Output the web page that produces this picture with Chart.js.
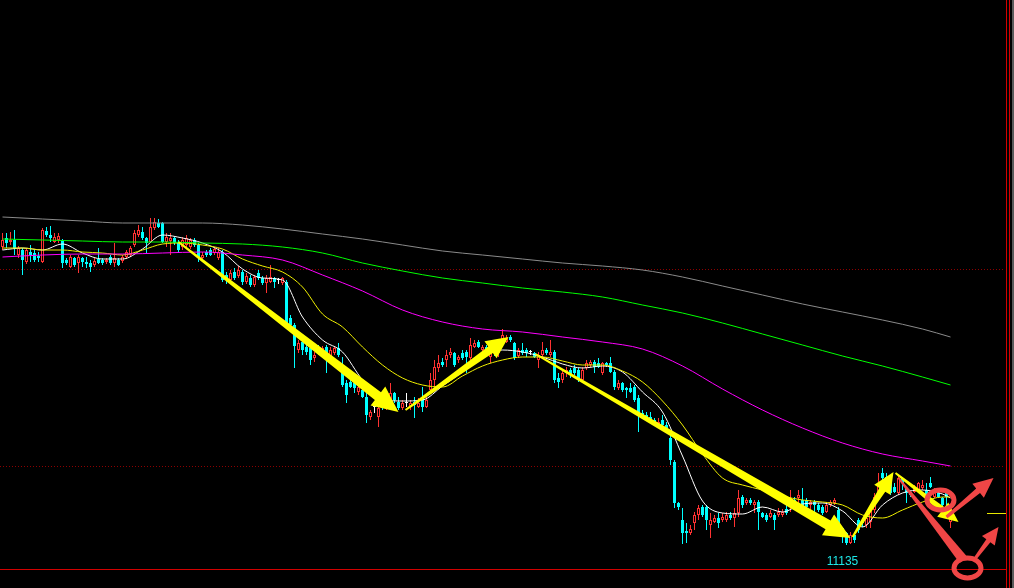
<!DOCTYPE html>
<html>
<head>
<meta charset="utf-8">
<script src="https://cdn.jsdelivr.net/npm/chart.js@4"></script>
<style>
html, body { margin: 0; padding: 0; background: #000; overflow: hidden; }
canvas { display: block; }
</style>
</head>
<body>
<canvas id="kline" width="1014" height="588"></canvas>
<script>
// one candle per bar, oldest first
var opens = [
  11433,11442,11438,11440,11425,11430,11418,11428,11427,11424,
  11418,11449,11445,11438,11440,11439,11420,11413,11422,11417,
  11422,11418,11417,11415,11421,11420,11418,11423,11417,11420,
  11419,11423,11425,11435,11445,11448,11442,11438,11452,11457,
  11457,11438,11439,11442,11438,11433,11435,11433,11440,11435,
  11422,11428,11430,11427,11422,11428,11405,11400,11408,11404,
  11408,11398,11402,11395,11407,11402,11397,11398,11402,11400,
  11397,11398,11362,11355,11330,11338,11333,11332,11322,11333,
  11327,11333,11322,11327,11332,11315,11297,11298,11297,11288,
  11290,11283,11263,11273,11263,11277,11273,11280,11287,11278,
  11272,11277,11273,11278,11273,11282,11273,11290,11300,11312,
  11318,11320,11325,11327,11320,11327,11328,11322,11333,11338,
  11330,11333,11323,11330,11327,11340,11338,11343,11337,11324,
  11330,11330,11328,11327,11320,11325,11330,11325,11328,11302,
  11300,11307,11310,11312,11310,11300,11312,11315,11318,11317,
  11307,11317,11317,11308,11292,11297,11292,11292,11293,11282,
  11267,11265,11263,11260,11255,11260,11255,11242,11218,11177,
  11160,11149,11147,11157,11165,11173,11173,11155,11158,11162,
  11160,11160,11165,11162,11167,11183,11177,11180,11175,11178,
  11167,11165,11163,11165,11165,11165,11171,11178,11180,11182,
  11180,11180,11175,11178,11175,11173,11168,11175,11177,11170,
  11152,11147,11137,11145,11160,11160,11155,11158,11170,11182,
  11207,11203,11200,11193,11187,11202,11192,11188,11188,11190,
  11192,11190,11197,11183,11187,11182,11187,11158
];
var highs = [
  11447,11447,11448,11450,11434,11432,11432,11435,11430,11428,
  11452,11453,11454,11447,11447,11441,11422,11425,11423,11425,
  11423,11423,11420,11422,11432,11422,11422,11425,11437,11422,
  11425,11430,11434,11450,11455,11453,11443,11462,11462,11461,
  11458,11447,11447,11443,11440,11443,11445,11442,11442,11437,
  11428,11430,11432,11433,11432,11430,11408,11410,11412,11414,
  11410,11407,11405,11405,11410,11404,11405,11415,11403,11402,
  11403,11400,11365,11357,11340,11340,11335,11333,11328,11335,
  11334,11335,11333,11333,11337,11323,11300,11303,11302,11298,
  11293,11287,11270,11275,11275,11280,11282,11297,11288,11283,
  11280,11287,11280,11283,11282,11293,11285,11307,11320,11325,
  11322,11330,11332,11328,11325,11330,11330,11342,11340,11340,
  11335,11335,11332,11333,11340,11351,11345,11345,11338,11332,
  11337,11332,11330,11328,11328,11338,11332,11340,11330,11307,
  11310,11313,11312,11315,11312,11313,11320,11320,11320,11322,
  11318,11318,11323,11310,11300,11298,11293,11297,11295,11285,
  11270,11268,11268,11262,11262,11265,11258,11247,11220,11178,
  11172,11157,11155,11168,11175,11175,11175,11167,11165,11167,
  11167,11168,11168,11172,11190,11185,11182,11182,11180,11180,
  11168,11167,11170,11167,11172,11171,11175,11190,11183,11190,
  11192,11182,11180,11180,11177,11175,11178,11180,11182,11173,
  11153,11148,11148,11148,11162,11162,11165,11172,11187,11207,
  11212,11207,11202,11197,11205,11203,11193,11190,11195,11198,
  11200,11197,11203,11192,11190,11183,11190,11170
];
var lows = [
  11430,11432,11435,11425,11422,11405,11416,11418,11418,11418,
  11417,11443,11438,11437,11437,11412,11415,11412,11413,11407,
  11413,11412,11408,11413,11416,11415,11416,11415,11413,11414,
  11417,11421,11423,11433,11443,11440,11427,11437,11450,11452,
  11437,11433,11425,11435,11428,11430,11433,11431,11433,11418,
  11418,11423,11424,11425,11420,11398,11396,11398,11400,11402,
  11395,11396,11393,11393,11400,11395,11387,11397,11392,11396,
  11395,11353,11353,11312,11327,11325,11325,11315,11318,11325,
  11324,11307,11320,11325,11323,11293,11277,11292,11287,11285,
  11282,11257,11260,11267,11253,11270,11270,11278,11277,11270,
  11270,11273,11270,11262,11272,11268,11272,11287,11293,11308,
  11313,11313,11322,11313,11317,11320,11307,11320,11332,11332,
  11328,11325,11317,11324,11323,11337,11337,11338,11320,11322,
  11325,11323,11325,11322,11312,11323,11325,11323,11297,11292,
  11297,11303,11302,11305,11298,11298,11310,11313,11307,11312,
  11305,11313,11307,11290,11290,11288,11282,11287,11278,11248,
  11262,11260,11257,11255,11253,11253,11250,11215,11172,11170,
  11136,11137,11145,11150,11160,11163,11150,11142,11157,11152,
  11158,11158,11160,11153,11163,11172,11175,11175,11167,11150,
  11162,11158,11162,11150,11163,11163,11165,11168,11175,11177,
  11168,11170,11170,11167,11168,11165,11167,11173,11175,11150,
  11137,11135,11136,11137,11147,11153,11152,11152,11167,11180,
  11200,11197,11185,11187,11185,11190,11177,11183,11187,11188,
  11190,11183,11192,11182,11182,11173,11175,11152
];
var closes = [
  11440,11437,11440,11432,11432,11420,11430,11425,11420,11422,
  11450,11445,11442,11443,11444,11417,11417,11423,11415,11423,
  11418,11416,11413,11419,11417,11417,11420,11417,11422,11415,
  11423,11428,11432,11447,11450,11442,11437,11453,11458,11453,
  11438,11443,11442,11437,11430,11440,11442,11440,11435,11422,
  11425,11425,11425,11431,11428,11400,11400,11407,11402,11410,
  11398,11404,11395,11403,11402,11397,11402,11403,11398,11400,
  11402,11357,11355,11334,11337,11330,11328,11320,11325,11328,
  11332,11325,11330,11332,11325,11295,11285,11293,11292,11293,
  11283,11265,11268,11273,11272,11272,11280,11287,11280,11272,
  11277,11277,11277,11275,11277,11273,11280,11300,11313,11317,
  11315,11325,11328,11315,11323,11322,11323,11335,11337,11333,
  11333,11328,11327,11327,11337,11345,11342,11340,11322,11330,
  11327,11327,11328,11323,11325,11330,11327,11328,11300,11298,
  11307,11310,11305,11307,11300,11310,11317,11318,11313,11313,
  11317,11315,11308,11293,11297,11290,11290,11288,11280,11267,
  11263,11262,11258,11257,11258,11255,11252,11220,11177,11173,
  11147,11147,11151,11165,11172,11165,11160,11160,11162,11157,
  11163,11165,11162,11167,11182,11175,11180,11177,11178,11168,
  11163,11160,11167,11160,11168,11168,11167,11182,11177,11185,
  11170,11173,11178,11175,11170,11167,11175,11178,11180,11152,
  11145,11137,11145,11140,11150,11157,11162,11170,11183,11197,
  11202,11200,11187,11188,11202,11197,11187,11185,11192,11197,
  11195,11185,11193,11188,11183,11175,11183,11165
];

// moving averages at every 5th bar (short) / 10th bar (long)
var shortIdx = [0,5,10,15,20,25,30,35,40,45,50,55,60,65,70,75,80,85,90,95,
  100,105,110,115,120,125,130,135,140,145,150,155,160,165,170,175,180,185,190,195,
  200,205,210,215,220,225,230,235,237];
var maWhite = [11430,11432,11430,11436,11427,11421,11421,11431,11445,11442,
  11437,11428,11411,11402,11400,11363,11340,11328,11300,11281,
  11279,11280,11294,11308,11323,11330,11328,11323,11316,11312,
  11314,11308,11288,11268,11224,11179,11167,11166,11173,11168,
  11176,11177,11169,11153,11175,11187,11190,11186,11182];
var maYellow = [11432,11432,11430,11430,11428,11427,11425,11430,11436,11437,
  11435,11431,11421,11414,11408,11393,11366,11353,11333,11315,
  11302,11295,11293,11304,11314,11320,11323,11323,11319,11315,
  11315,11309,11298,11279,11255,11226,11202,11195,11190,11184,
  11180,11178,11175,11165,11162,11170,11178,11183,11183];
var longIdx = [0,10,20,30,40,50,60,70,80,90,100,110,120,130,140,150,160,170,180,190,200,210,220,230,237];
var maMagenta = [11423,11425,11426,11426,11427,11428,11425,11420,11405,11389,11370,11358,11351,
  11348,11343,11338,11331,11314,11291,11270,11252,11237,11226,11219,11214];
var maGreen = [11441,11440,11439,11438,11438,11437,11436,11433,11427,11417,11409,11402,11397,
  11392,11388,11383,11375,11367,11357,11346,11335,11324,11314,11303,11295];
var maGrey = [11463,11461,11459,11457,11457,11457,11455,11451,11446,11441,11435,11429,11425,
  11421,11417,11414,11410,11403,11394,11385,11376,11368,11360,11351,11343];

var totalSlots = 251;      // bars the x axis has room for
var gridPrices = [11411, 11214];
var lastPrice = 11167;

// hand drawn marks, in [bar, price] units
var yellowArrows = [
  [44, 11438, 99, 11268],
  [100.75, 11270, 126.5, 11343],
  [133.25, 11326, 212, 11142],
  [212.5, 11143, 222.75, 11208],
  [223.25, 11207, 239, 11158]
];
var redArrows = [
  [236, 11163, 247.75, 11202],
  [243.25, 11122, 249, 11153]
];
var redStroke = [224, 11202, 240.25, 11120];
var redRings = [[234.5, 11180], [241.25, 11112]];

var UP = '#ff3232', DOWN = '#00ffff', FLAT = '#ffffff';
var RED_INK = '#f04646', YELLOW_INK = '#ffff00';

var labels = [];
for (var i = 0; i < totalSlots; i++) labels.push(i);

function dirColor(i) {
  if (closes[i] > opens[i]) return UP;
  if (closes[i] < opens[i]) return DOWN;
  return FLAT;
}
var lineColors = opens.map(function(o, i) { return dirColor(i); });
var bodyFill = opens.map(function(o, i) { return closes[i] > o ? '#000000' : dirColor(i); });
var bodyBorder = opens.map(function(o, i) { return closes[i] > o ? 1 : 0; });

function pts(idx, vals) {
  return idx.map(function(x, k) { return {x: x, y: vals[k]}; });
}
function maLine(idx, vals, color) {
  return {
    type: 'line', data: pts(idx, vals), borderColor: color, borderWidth: 1,
    pointRadius: 0, cubicInterpolationMode: 'monotone', order: 0
  };
}

function arrow(ctx, x1, y1, x2, y2, tail, shaft, head, headLen, color) {
  var dx = x2 - x1, dy = y2 - y1, len = Math.sqrt(dx * dx + dy * dy);
  var ux = dx / len, uy = dy / len, nx = -uy, ny = ux;
  var bx = x2 - ux * headLen, by = y2 - uy * headLen;
  ctx.beginPath();
  ctx.moveTo(x1 + nx * tail / 2, y1 + ny * tail / 2);
  ctx.lineTo(bx + nx * shaft / 2, by + ny * shaft / 2);
  ctx.lineTo(bx + nx * head / 2, by + ny * head / 2);
  ctx.lineTo(x2, y2);
  ctx.lineTo(bx - nx * head / 2, by - ny * head / 2);
  ctx.lineTo(bx - nx * shaft / 2, by - ny * shaft / 2);
  ctx.lineTo(x1 - nx * tail / 2, y1 - ny * tail / 2);
  ctx.closePath();
  ctx.fillStyle = color;
  ctx.fill();
}

var frame = {
  id: 'frame',
  beforeDatasetsDraw: function(chart) {
    var ctx = chart.ctx, area = chart.chartArea, y = chart.scales.y;
    var R = Math.floor(area.right), B = Math.round(area.bottom);
    ctx.save();
    ctx.fillStyle = 'rgb(140,0,0)';
    gridPrices.forEach(function(p) {
      var py = Math.round(y.getPixelForValue(p));
      for (var x = 0; x < R; x += 3) ctx.fillRect(x, py, 1, 1);
    });
    ctx.fillStyle = 'rgb(210,0,0)';
    ctx.fillRect(0, B, R + 3, 1);
    ctx.fillRect(R + 2, 0, 1, chart.height);
    ctx.fillRect(R + 5, 0, 1, chart.height);
    ctx.fillStyle = '#5a5a5a';
    ctx.fillRect(R + 8, 0, 2, chart.height);
    ctx.restore();
  },
  afterDraw: function(chart) {
    var ctx = chart.ctx, xs = chart.scales.x, ys = chart.scales.y, area = chart.chartArea;
    function px(i) { return xs.getPixelForValue(i); }
    function py(v) { return ys.getPixelForValue(v); }
    ctx.save();

    // last price marker
    ctx.fillStyle = '#e8e800';
    ctx.fillRect(Math.floor(area.right) - 17, Math.round(py(lastPrice)), 19, 1);

    // low label
    var low = Math.min.apply(null, lows), li = lows.indexOf(low);
    ctx.fillStyle = '#1ee8e8';
    ctx.font = '12px "Liberation Sans", Arial, sans-serif';
    ctx.textAlign = 'center';
    ctx.textBaseline = 'top';
    ctx.fillText(String(low), px(li) - 4, py(low) + 11);

    // yellow trend arrows
    var ySizes = [[2, 10, 24, 26], [2, 8, 21, 22], [2, 10, 24, 26], [2, 7, 19, 21], [2, 6, 18, 20]];
    yellowArrows.forEach(function(a, k) {
      var s = ySizes[k];
      arrow(ctx, px(a[0]), py(a[1]), px(a[2]), py(a[3]), s[0], s[1], s[2], s[3], YELLOW_INK);
    });

    // red marks
    arrow(ctx, px(redStroke[0]), py(redStroke[1]), px(redStroke[2]), py(redStroke[3]), 2, 10, 10, 0, RED_INK);
    var rSizes = [[3, 6, 18, 20], [3, 5, 16, 17]];
    redArrows.forEach(function(a, k) {
      var s = rSizes[k];
      arrow(ctx, px(a[0]), py(a[1]), px(a[2]), py(a[3]), s[0], s[1], s[2], s[3], RED_INK);
    });
    ctx.strokeStyle = RED_INK;
    ctx.lineWidth = 5;
    redRings.forEach(function(r) {
      ctx.beginPath();
      ctx.ellipse(px(r[0]), py(r[1]), 13.5, 10, 0, 0, Math.PI * 2);
      ctx.stroke();
    });
    ctx.restore();
  }
};

new Chart(document.getElementById('kline'), {
  type: 'bar',
  data: {
    labels: labels,
    datasets: [
      maLine(longIdx, maGrey, '#8a8a8a'),
      maLine(longIdx, maGreen, '#00ff00'),
      maLine(longIdx, maMagenta, '#ff00ff'),
      maLine(shortIdx, maYellow, '#f0f000'),
      maLine(shortIdx, maWhite, '#ffffff'),
      {
        data: opens.map(function(o, i) { return [o, closes[i]]; }),
        backgroundColor: bodyFill, borderColor: lineColors, borderWidth: bodyBorder,
        borderSkipped: false, barThickness: 3, minBarLength: 1, inflateAmount: 0,
        grouped: false, order: 1
      },
      {
        data: lows.map(function(l, i) { return [l, highs[i]]; }),
        backgroundColor: lineColors, borderWidth: 0, barThickness: 1, inflateAmount: 0,
        grouped: false, order: 2
      }
    ]
  },
  options: {
    responsive: false,
    animation: false,
    devicePixelRatio: 1,
    events: [],
    layout: { padding: { left: 0.5, right: 9.5, top: 0, bottom: 19 } },
    plugins: { legend: { display: false }, tooltip: { enabled: false } },
    scales: {
      x: { type: 'category', display: false, offset: true },
      y: { display: false, min: 11111, max: 11680 }
    }
  },
  plugins: [frame]
});
</script>
</body>
</html>
